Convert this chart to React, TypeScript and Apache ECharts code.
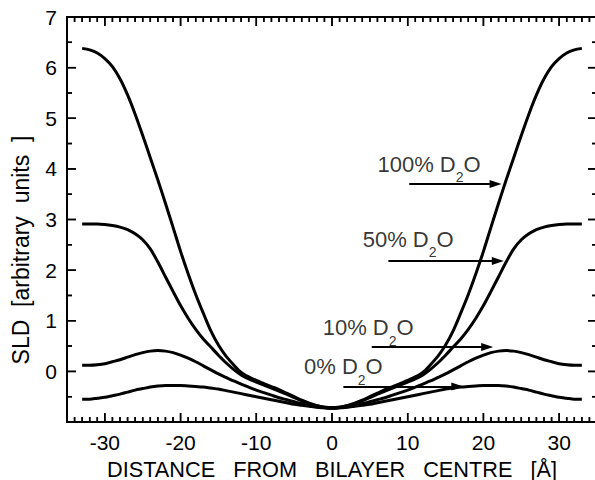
import React, { useEffect, useRef } from "react";
import * as echarts from "echarts";

const FONT = "'Liberation Sans', Arial, Helvetica, sans-serif";

// axis ranges
const X_MIN = -35;
const X_MAX = 35;
const Y_MIN = -1;
const Y_MAX = 7;

// distance from bilayer centre [Å]
const xs = [
  -33, -32, -31, -30, -29, -28, -27, -26, -25, -24, -23, -22, -21, -20, -19, -18, -17,
  -16, -15, -14, -13, -12, -11, -10, -9, -8, -7, -6, -5, -4, -3, -2, -1, 0,
  1, 2, 3, 4, 5, 6, 7, 8, 9, 10, 11, 12, 13, 14, 15, 16, 17, 18, 19, 20,
  21, 22, 23, 24, 25, 26, 27, 28, 29, 30, 31, 32, 33,
];

const sld100 = [
  6.38, 6.35, 6.29, 6.18, 6.02, 5.78, 5.46, 5.08, 4.66, 4.22, 3.78, 3.32, 2.85, 2.37, 1.93, 1.52, 1.15,
  0.8, 0.52, 0.3, 0.13, -0.02, -0.11, -0.18, -0.24, -0.3, -0.36, -0.43, -0.5, -0.57, -0.63, -0.68, -0.71, -0.72,
  -0.71, -0.68, -0.63, -0.57, -0.5, -0.43, -0.36, -0.3, -0.24, -0.18, -0.11, -0.02, 0.13, 0.3, 0.52, 0.8, 1.15,
  1.52, 1.93, 2.37, 2.85, 3.32, 3.78, 4.22, 4.66, 5.08, 5.46, 5.78, 6.02, 6.18, 6.29, 6.35, 6.38,
];

const sld50 = [
  2.91, 2.91, 2.91, 2.9, 2.88, 2.85, 2.8, 2.72, 2.6, 2.42, 2.16, 1.87, 1.58, 1.3, 1.05, 0.83, 0.64,
  0.48, 0.32, 0.17, 0.04, -0.07, -0.15, -0.21, -0.27, -0.33, -0.39, -0.45, -0.52, -0.58, -0.64, -0.68, -0.71, -0.72,
  -0.71, -0.68, -0.64, -0.58, -0.52, -0.45, -0.39, -0.33, -0.27, -0.21, -0.15, -0.07, 0.04, 0.17, 0.32, 0.48, 0.64,
  0.83, 1.05, 1.3, 1.58, 1.87, 2.16, 2.42, 2.6, 2.72, 2.8, 2.85, 2.88, 2.9, 2.91, 2.91, 2.91,
];

const sld10 = [
  0.12, 0.12, 0.13, 0.15, 0.19, 0.23, 0.28, 0.33, 0.37, 0.4, 0.41, 0.4, 0.37, 0.32, 0.26, 0.19, 0.11,
  0.03, -0.05, -0.12, -0.19, -0.25, -0.31, -0.37, -0.42, -0.47, -0.52, -0.56, -0.6, -0.64, -0.67, -0.7, -0.72, -0.73,
  -0.72, -0.7, -0.67, -0.64, -0.6, -0.56, -0.52, -0.47, -0.42, -0.37, -0.31, -0.25, -0.19, -0.12, -0.05, 0.03, 0.11,
  0.19, 0.26, 0.32, 0.37, 0.4, 0.41, 0.4, 0.37, 0.33, 0.28, 0.23, 0.19, 0.15, 0.13, 0.12, 0.12,
];

const sld0 = [
  -0.55, -0.55, -0.53, -0.51, -0.48, -0.45, -0.41, -0.37, -0.34, -0.31, -0.29, -0.28, -0.28, -0.28, -0.29, -0.3, -0.31,
  -0.33, -0.35, -0.38, -0.41, -0.44, -0.47, -0.5, -0.53, -0.56, -0.59, -0.62, -0.65, -0.67, -0.69, -0.71, -0.72, -0.73,
  -0.72, -0.71, -0.69, -0.67, -0.65, -0.62, -0.59, -0.56, -0.53, -0.5, -0.47, -0.44, -0.41, -0.38, -0.35, -0.33, -0.31,
  -0.3, -0.29, -0.28, -0.28, -0.28, -0.29, -0.31, -0.34, -0.37, -0.41, -0.45, -0.48, -0.51, -0.53, -0.55, -0.55,
];

// tick values
const xTickValues = [-30, -20, -10, 0, 10, 20, 30];
const xMinorValues = [
  -34, -33, -32, -31, -29, -28, -27, -26, -25, -24, -23, -22, -21, -19, -18,
  -17, -16, -15, -14, -13, -12, -11, -9, -8, -7, -6, -5, -4, -3, -2, -1, 1, 2, 3, 4,
  5, 6, 7, 8, 9, 11, 12, 13, 14, 15, 16, 17, 18, 19, 21, 22, 23, 24, 25, 26, 27, 28,
  29, 31, 32, 33, 34,
];
const yTickValues = [0, 1, 2, 3, 4, 5, 6, 7];
const yMinorValues = [-0.5, 0.5, 1.5, 2.5, 3.5, 4.5, 5.5, 6.5];

// annotations: label text (before subscript), label anchor x / y
const annotNames = ["100% D", "50% D", "10% D", "0% D"];
const annotX = [6.0, 4.05, -1.23, -3.7];
const annotY = [4.0, 2.52, 0.77, 0.0];
// arrows: start x, end x, y
const arrowStartX = [10.2, 7.45, 5.25, 1.5];
const arrowEndX = [21.6, 21.9, 20.5, 16.55];
const arrowY = [3.7, 2.18, 0.48, -0.3];

const xName = "DISTANCE   FROM   BILAYER   CENTRE   [Å]";
const yName = "SLD  [arbitrary  units  ]";

const curves = [sld100, sld50, sld10, sld0];

// layout (pixels)
const GRID_LEFT = 67;
const GRID_TOP = 17;
const GRID_W = 530;
const GRID_H = 405;
const MAJOR_LEN = 9;
const MINOR_LEN = 5;

export default function App() {
  const ref = useRef<HTMLDivElement>(null);
  useEffect(() => {
    if (!ref.current) return;
    const chart = echarts.init(ref.current, null, { renderer: "svg" });
    const black = "#000";
    const pxX = (X_MAX - X_MIN) / GRID_W;
    const pxY = (Y_MAX - Y_MIN) / GRID_H;
    const GAP: any = ["-", "-"];

    const tickData = (values: number[], len: number) => {
      const out: any[] = [];
      values.forEach((v) => {
        out.push([v, Y_MIN], [v, Y_MIN + len * pxY], GAP);
        out.push([v, Y_MAX], [v, Y_MAX - len * pxY], GAP);
      });
      return out;
    };
    const yTickData = (values: number[], len: number) => {
      const out: any[] = [];
      values.forEach((v) => {
        out.push([X_MIN, v], [X_MIN + len * pxX, v], GAP);
        out.push([X_MAX, v], [X_MAX - len * pxX, v], GAP);
      });
      return out;
    };

    const lineSeries = curves.map((c) => ({
      type: "line",
      data: xs.map((x, i) => [x, c[i]]),
      showSymbol: false,
      smooth: 0.3,
      lineStyle: { color: black, width: 3 },
      z: 3,
    }));

    const frameSeries = {
      type: "line",
      silent: true,
      clip: false,
      showSymbol: false,
      data: [
        [X_MIN, Y_MIN],
        [X_MAX, Y_MIN],
        [X_MAX, Y_MAX],
        [X_MIN, Y_MAX],
        [X_MIN, Y_MIN],
      ],
      lineStyle: { color: black, width: 2 },
      z: 6,
    };

    const tickSeries = {
      type: "line",
      silent: true,
      clip: false,
      showSymbol: false,
      connectNulls: false,
      data: [
        ...tickData(xTickValues, MAJOR_LEN),
        ...tickData(xMinorValues, MINOR_LEN),
        ...yTickData(yTickValues, MAJOR_LEN),
        ...yTickData(yMinorValues, MINOR_LEN),
      ],
      lineStyle: { color: black, width: 1.5 },
      z: 6,
    };

    const annotSeries = {
      type: "scatter",
      symbolSize: 0,
      silent: true,
      data: annotNames.map((n, i) => [annotX[i], annotY[i]]),
      label: {
        show: true,
        position: "right",
        distance: 0,
        formatter: (p: any) => `{h|\u200b}{n|${annotNames[p.dataIndex]}}{s|2}{n|O}`,
        rich: {
          h: { fontSize: 22, lineHeight: 31, fontFamily: FONT, color: black },
          n: { fontSize: 22, color: black, fontFamily: FONT, verticalAlign: "top", lineHeight: 24 },
          s: { fontSize: 14, color: black, fontFamily: FONT, verticalAlign: "bottom", lineHeight: 14 },
        },
      },
      markLine: {
        silent: true,
        animation: false,
        symbol: ["none", "triangle"],
        symbolSize: 10,
        label: { show: false },
        lineStyle: { color: black, width: 2, type: "solid" },
        data: arrowY.map((y, i) => [
          { coord: [arrowStartX[i], y], symbol: "none" },
          { coord: [arrowEndX[i], y], symbol: "triangle", symbolSize: [8, 12] },
        ]),
      },
      z: 4,
    };

    const yNameGraphic = {
      type: "text",
      id: "yname",
      x: 21,
      y: 250,
      rotation: Math.PI / 2,
      style: {
        text: yName,
        fontSize: 23,
        fontFamily: FONT,
        fill: black,
        align: "center",
        verticalAlign: "middle",
      },
    };

    chart.setOption({
      animation: false,
      textStyle: { fontFamily: FONT },
      grid: {
        left: GRID_LEFT,
        top: GRID_TOP,
        width: GRID_W,
        height: GRID_H,
        containLabel: false,
        outerBoundsMode: "none",
      },
      xAxis: {
        type: "value",
        min: X_MIN,
        max: X_MAX,
        axisLine: { show: false, onZero: false },
        axisTick: { show: false },
        axisLabel: {
          show: true,
          customValues: xTickValues,
          fontSize: 21,
          color: black,
          fontFamily: FONT,
          margin: 10,
        },
        splitLine: { show: false },
        name: xName,
        nameLocation: "middle",
        nameGap: 36,
        nameTextStyle: { fontSize: 21.7, color: black, fontFamily: FONT },
      },
      yAxis: {
        type: "value",
        min: Y_MIN,
        max: Y_MAX,
        interval: 1,
        axisLine: { show: false, onZero: false },
        axisTick: { show: false },
        axisLabel: {
          show: true,
          fontSize: 21,
          color: black,
          fontFamily: FONT,
          margin: 10,
          formatter: (v: number) => (yTickValues.indexOf(v) >= 0 ? String(v) : ""),
        },
        splitLine: { show: false },
      },
      series: [...lineSeries, annotSeries, frameSeries, tickSeries],
      graphic: [yNameGraphic],
    });

    // frame and ticks placed through the axis scale (pixel positions from convertToPixel)
    const toPx = (x: number, y: number) =>
      chart.convertToPixel({ xAxisIndex: 0, yAxisIndex: 0 }, [x, y]) as number[];
    const p0 = toPx(X_MIN, Y_MAX);
    const p1 = toPx(X_MAX, Y_MIN);
    const els: any[] = [
      yNameGraphic,
      {
        type: "rect",
        id: "frame",
        z: 100,
        shape: { x: p0[0], y: p0[1], width: p1[0] - p0[0], height: p1[1] - p0[1] },
        style: { fill: "none", stroke: black, lineWidth: 2 },
      },
    ];
    const tickEl = (id: string, x1: number, y1: number, x2: number, y2: number) => ({
      type: "line",
      id,
      z: 100,
      shape: { x1, y1, x2, y2 },
      style: { stroke: black, lineWidth: 1.5 },
    });
    const addX = (v: number, len: number, k: string) => {
      const b = toPx(v, Y_MIN);
      const t = toPx(v, Y_MAX);
      els.push(tickEl(`xb${k}${v}`, b[0], b[1], b[0], b[1] - len));
      els.push(tickEl(`xt${k}${v}`, t[0], t[1], t[0], t[1] + len));
    };
    const addY = (v: number, len: number, k: string) => {
      const l = toPx(X_MIN, v);
      const r = toPx(X_MAX, v);
      els.push(tickEl(`yl${k}${v}`, l[0], l[1], l[0] + len, l[1]));
      els.push(tickEl(`yr${k}${v}`, r[0], r[1], r[0] - len, r[1]));
    };
    xTickValues.forEach((v) => addX(v, MAJOR_LEN, "M"));
    xMinorValues.forEach((v) => addX(v, MINOR_LEN, "m"));
    [Y_MIN, ...yTickValues].forEach((v) => addY(v, MAJOR_LEN, "M"));
    yMinorValues.forEach((v) => addY(v, MINOR_LEN, "m"));
    chart.setOption({ graphic: els });

    return () => chart.dispose();
  }, []);
  return (
    <div
      ref={ref}
      style={{ position: "absolute", left: 0, top: 0, width: 595, height: 480, background: "#fff" }}
    />
  );
}
